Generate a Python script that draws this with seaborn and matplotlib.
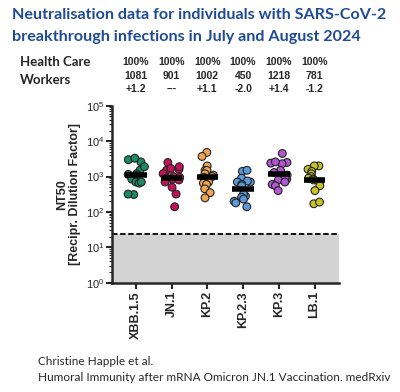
import numpy as np
import pandas as pd
import matplotlib
matplotlib.use("Agg")
import matplotlib.pyplot as plt
import seaborn as sns

variants = ["XBB.1.5", "JN.1", "KP.2", "KP.2.3", "KP.3", "LB.1"]
xbb15 = [3000, 2600, 3300, 1500, 1900, 1200, 1100, 1150, 850, 700, 650, 700, 310, 320]
jn1 = [2500, 1600, 1500, 1700, 1900, 1200, 1000, 950, 900, 850, 800, 700, 500, 320, 140]
kp2 = [4800, 3700, 2000, 1500, 1500, 1200, 1100, 1000, 950, 700, 650, 600, 450, 350, 250]
kp23 = [1400, 1500, 900, 700, 700, 750, 600, 550, 280, 320, 260, 200, 180, 140, 230]
kp3 = [4500, 2500, 2300, 2400, 2600, 1500, 1300, 1100, 850, 900, 800, 700, 600, 550, 400]
lb1 = [2000, 2000, 1600, 1400, 1200, 1000, 900, 850, 800, 700, 550, 400, 170, 190]
gmt = [1081, 901, 1002, 450, 1218, 781]
pct_labels = ["100%"] * 6
gmt_labels = ["1081", "901", "1002", "450", "1218", "781"]
fold_labels = ["+1.2", "---", "+1.1", "-2.0", "+1.4", "-1.2"]
lod = 24
colors = ["#1b8a66", "#c4125a", "#f0a552", "#5a9ad8", "#b256d2", "#c9c326"]

groups = [xbb15, jn1, kp2, kp23, kp3, lb1]
df = pd.DataFrame({
    "variant": np.concatenate([[v] * len(g) for v, g in zip(variants, groups)]),
    "nt50": np.concatenate(groups).astype(float),
})

sns.set_style("ticks")
plt.rcParams["font.family"] = ["Liberation Sans", "DejaVu Sans"]
np.random.seed(7)

fig = plt.figure(figsize=(4.0, 3.92), dpi=100)
ax = fig.add_axes([0.279, 0.279, 0.569, 0.451])

ax.axhspan(1, lod, color="#d3d3d3", zorder=0, lw=0)
ax.axhline(lod, color="black", ls=(0, (3, 1.5)), lw=1.3, zorder=1)

sns.stripplot(data=df, x="variant", y="nt50", hue="variant", palette=colors,
              order=variants, hue_order=variants, legend=False, log_scale=True,
              jitter=0.25, size=5.6, edgecolor="#222222", linewidth=0.8, ax=ax, zorder=3)
ax.hlines(gmt, np.arange(len(variants)) - 0.3, np.arange(len(variants)) + 0.3,
          color="black", lw=4, zorder=4)

ax.set_ylim(1, 1e5)
ax.set_xlim(-0.68, 5.69)
for s in ["top", "right"]:
    ax.spines[s].set_visible(False)
for s in ["left", "bottom"]:
    ax.spines[s].set_linewidth(1.8)
ax.tick_params(axis="y", which="major", length=4, width=1.5, labelsize=8, pad=1)
ax.tick_params(axis="y", which="minor", length=2, width=0.8)
ax.tick_params(axis="x", length=4, width=1.5, labelsize=9, pad=2)
ax.set_xticks(range(len(variants)))
ax.set_xticklabels(variants, rotation=90, fontweight="bold")
ax.set_xlabel("")
ax.set_ylabel("NT50\n[Recipr. Dilution Factor]", fontsize=9, fontweight="bold",
              linespacing=1.1, labelpad=4)

title_color = "#1f4b96"
tfam = ["Lato", "DejaVu Sans"]
fig.text(0.03, 0.962, "Neutralisation data for individuals with SARS-CoV-2",
         fontsize=11.6, fontweight="bold", color=title_color, va="center", family=tfam)
fig.text(0.03, 0.905, "breakthrough infections in July and August 2024",
         fontsize=11.6, fontweight="bold", color=title_color, va="center", family=tfam)
fig.text(0.05, 0.842, "Health Care", fontsize=9.5, fontweight="bold", va="center", family=tfam)
fig.text(0.05, 0.796, "Workers", fontsize=9.5, fontweight="bold", va="center", family=tfam)

trans = matplotlib.transforms.blended_transform_factory(ax.transData, fig.transFigure)
for i in range(len(variants)):
    ax.text(i, 0.842, pct_labels[i], transform=trans, ha="center", va="center",
            fontsize=7.5, fontweight="bold")
    ax.text(i, 0.806, gmt_labels[i], transform=trans, ha="center", va="center",
            fontsize=7.5, fontweight="bold")
    ax.text(i, 0.773, fold_labels[i], transform=trans, ha="center", va="center",
            fontsize=7.5, fontweight="bold")

fig.text(0.095, 0.079, "Christine Happle et al.", fontsize=8.5, va="center", family=tfam)
fig.text(0.095, 0.038, "Humoral Immunity after mRNA Omicron JN.1 Vaccination. medRxiv",
         fontsize=8.5, va="center", family=tfam)

fig.savefig("out.png", dpi=100)
